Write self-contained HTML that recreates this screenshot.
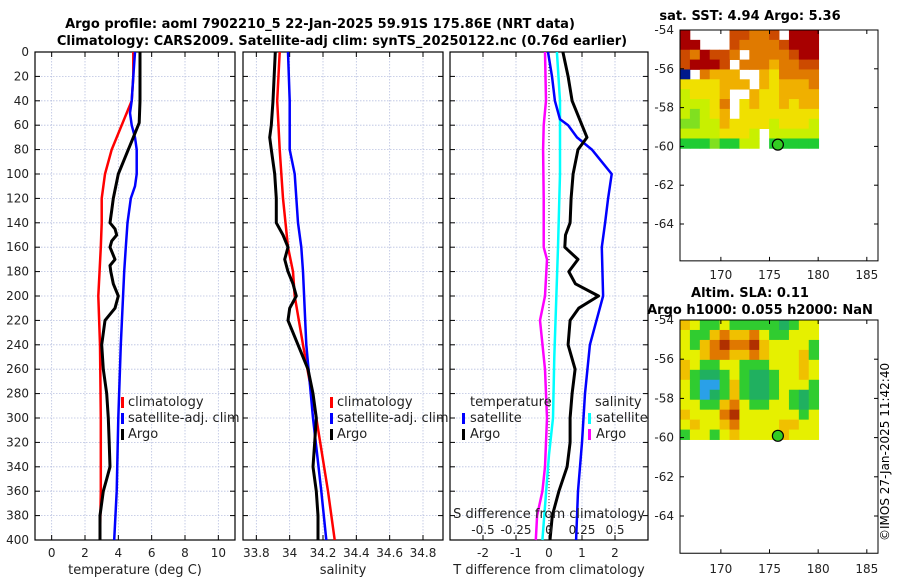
<!DOCTYPE html>
<html><head><meta charset="utf-8"><style>
body{margin:0;background:#fff;}
svg{display:block;font-family:"DejaVu Sans","Liberation Sans",sans-serif;}
</style></head><body>
<svg id="fig" width="900" height="580" viewBox="0 0 900 580">
<text x="320" y="28" text-anchor="middle" font-size="13" font-weight="bold">Argo profile: aoml 7902210_5 22-Jan-2025 59.91S 175.86E (NRT data)</text>
<text x="342" y="45" text-anchor="middle" font-size="13" font-weight="bold">Climatology: CARS2009. Satellite-adj clim: synTS_20250122.nc (0.76d earlier)</text>
<text x="750" y="20" text-anchor="middle" font-size="13" font-weight="bold">sat. SST: 4.94 Argo: 5.36</text>
<text x="750" y="297" text-anchor="middle" font-size="13" font-weight="bold">Altim. SLA: 0.11</text>
<text x="760" y="314" text-anchor="middle" font-size="13" font-weight="bold">Argo h1000: 0.055 h2000: NaN</text>
<text transform="translate(889,541) rotate(-90)" font-size="12">©IMOS 27-Jan-2025 11:42:40</text>
</svg>
<script>
// ---- data ----
const depthTicks=[0,20,40,60,80,100,120,140,160,180,200,220,240,260,280,300,320,340,360,380,400];
const tempTicks=[0,2,4,6,8,10];
const salTicks=[33.8,34,34.2,34.4,34.6,34.8];
const salTickLabels=["33.8","34","34.2","34.4","34.6","34.8"];
const dtTicks=[-2,-1,0,1,2];
const dsTicks=[-0.5,-0.25,0,0.25,0.5];
const dsTickLabels=["-0.5","-0.25","0","0.25","0.5"];

const tClimD=[0,20,40,60,80,100,120,140,160,200,240,300,360,400];
const tClimV=[4.9,4.9,4.8,4.2,3.6,3.2,3.0,3.0,2.95,2.8,2.9,2.95,2.95,2.9];
const tSatD=[0,20,40,50,60,70,80,100,110,120,140,160,180,240,300,360,400];
const tSatV=[5.0,4.9,4.8,4.7,4.8,5.0,5.1,5.1,5.0,4.75,4.55,4.45,4.35,4.15,4.0,3.9,3.75];
const tArgoD=[0,20,40,58,70,80,90,100,110,120,130,140,145,150,155,160,170,175,180,190,200,210,220,240,260,280,300,320,340,350,360,380,400];
const tArgoV=[5.3,5.3,5.3,5.25,4.9,4.6,4.3,4.0,3.85,3.7,3.6,3.5,3.8,3.9,3.6,3.5,3.8,3.5,3.55,3.7,4.0,3.8,3.2,3.0,3.1,3.3,3.4,3.45,3.5,3.3,3.1,2.9,2.9];

const sClimD=[0,40,80,120,160,180,200,240,300,360,400];
const sClimV=[33.94,33.925,33.94,33.96,33.99,34.02,34.03,34.08,34.16,34.23,34.27];
const sSatD=[0,40,80,100,140,160,180,240,300,360,400];
const sSatV=[33.99,34.0,34.0,34.03,34.05,34.07,34.08,34.1,34.14,34.19,34.22];
const sArgoD=[0,40,60,70,80,100,120,140,150,160,170,180,190,200,210,220,240,260,280,300,320,340,360,380,400];
const sArgoV=[33.914,33.90,33.89,33.88,33.89,33.91,33.92,33.92,33.96,33.99,33.97,33.99,34.02,34.04,34.0,33.99,34.05,34.11,34.14,34.16,34.15,34.14,34.16,34.17,34.17];

const dtSatD=[0,20,40,55,60,70,80,90,100,120,140,160,200,240,280,320,360,400];
const dtSatV=[-0.03,0.09,0.18,0.33,0.58,0.85,1.3,1.6,1.9,1.79,1.7,1.6,1.64,1.24,1.09,1.0,0.88,0.82];
const dtArgoD=[0,20,40,60,70,80,100,120,140,150,160,170,180,190,200,210,220,240,260,280,300,320,340,360,380,400];
const dtArgoV=[0.42,0.58,0.70,1.0,1.15,0.88,0.73,0.67,0.64,0.5,0.48,0.88,0.6,0.8,1.5,0.9,0.64,0.58,0.79,0.7,0.64,0.64,0.55,0.3,0.1,0.03];
const dsSatD=[0,40,100,160,250,300,330,400];
const dsSatV=[0.06,0.083,0.083,0.068,0.04,0.03,0.0,-0.05];
const dsArgoD=[0,40,60,80,120,160,170,200,220,260,300,340,360,380,400];
const dsArgoV=[-0.03,-0.023,-0.04,-0.045,-0.04,-0.04,-0.015,-0.03,-0.068,-0.03,-0.015,-0.03,-0.05,-0.09,-0.1];

// map grids (color class index per cell, -9 = NaN)
const sstGrid=[
[9,-9,-9,-9,-9,8,8,7,7,8,-9,9,9,9],
[9,9,-9,-9,-9,8,7,7,7,7,8,9,9,9],
[8,7,9,8,8,7,-9,7,7,7,7,8,9,9],
[8,9,9,9,8,-9,7,7,7,6,7,7,8,8],
[0,-9,7,6,6,6,-9,-9,6,5,7,7,7,7],
[5,5,5,5,6,6,6,-9,6,5,6,6,6,7],
[4,5,5,5,6,-9,-9,6,5,5,6,6,6,6],
[4,4,4,5,7,-9,5,6,5,5,6,5,6,6],
[4,3,4,5,6,-9,5,5,5,5,5,5,5,5],
[3,3,4,4,6,5,5,5,5,4,5,5,5,4],
[4,4,4,4,5,5,5,4,-9,4,4,4,4,4],
[2,2,2,3,2,2,4,4,-9,2,2,2,2,2]];
const slaGrid=[
[1,0,-1,-1,0,-1,-1,-1,-1,-1,-2,-1,0,0],
[0,-1,-1,1,2,1,1,2,0,-1,-1,0,0,0],
[0,-1,1,2,3,2,2,3,1,0,0,0,0,-1],
[0,0,1,2,2,1,1,2,1,0,0,0,1,-1],
[1,0,-1,-1,0,0,-1,-1,-1,0,0,0,1,0],
[1,-1,-2,-2,-1,0,-1,-2,-2,-1,0,0,1,0],
[0,-1,-3,-3,-1,1,-1,-2,-2,-1,0,0,0,-1],
[0,-1,-3,-2,-1,1,-1,-2,-2,-1,0,-1,-2,-1],
[0,0,-1,-1,1,2,0,-1,-1,0,0,-1,-2,-1],
[1,0,0,0,2,3,0,0,0,0,0,0,-1,0],
[0,1,0,0,1,2,0,0,0,0,1,1,0,0],
[-1,0,0,-1,0,1,0,0,0,0,1,0,0,0]];
const mapLonTicks=[170,175,180,185];
const mapLatTicks=[-54,-56,-58,-60,-62,-64];
const floatLon=[175.86];
const floatLat=[-59.91];

// ---- drawing ----
const NS="http://www.w3.org/2000/svg";
const svg=document.getElementById('fig');
function mk(tag,at,parent){const e=document.createElementNS(NS,tag);for(const k in at)e.setAttribute(k,at[k]);(parent||svg).appendChild(e);return e;}
const Y0=52,Y1=540;
const yD=d=>Y0+(d/400)*(Y1-Y0);
const panels=[
 {x0:35,x1:235,min:-1,max:11},
 {x0:243,x1:443,min:33.72,max:34.92},
 {x0:450,x1:648,min:-3,max:3}];
function sx(p,v){return p.x0+(v-p.min)/(p.max-p.min)*(p.x1-p.x0);}
const p3s={x0:450,x1:648,min:-0.75,max:0.75};

function panelFrame(p,xt,xl,name){
 const g=mk('g',{});
 
 
 xt.forEach(v=>{const x=sx(p,v);mk('line',{x1:x,x2:x,y1:Y0,y2:Y1,stroke:'#b8c0e0','stroke-width':0.8,'stroke-dasharray':'1.5,1.5'},g);});
 depthTicks.forEach(d=>{const y=yD(d);mk('line',{x1:p.x0,x2:p.x1,y1:y,y2:y,stroke:'#b8c0e0','stroke-width':0.8,'stroke-dasharray':'1.5,1.5'},g);
  mk('line',{x1:p.x0,x2:p.x0+5,y1:y,y2:y,stroke:'#000'},g);mk('line',{x1:p.x1-5,x2:p.x1,y1:y,y2:y,stroke:'#000'},g);});
 xt.forEach((v,i)=>{const x=sx(p,v);
  mk('line',{x1:x,x2:x,y1:Y1,y2:Y1-5,stroke:'#000'},g);mk('line',{x1:x,x2:x,y1:Y0,y2:Y0+5,stroke:'#000'},g);
  const t=mk('text',{x:x,y:Y1+17,'text-anchor':'middle','font-size':12,fill:'#222'},g);t.textContent=xl[i];
  
  });
 mk('rect',{x:p.x0,y:Y0,width:p.x1-p.x0,height:Y1-Y0,fill:'none',stroke:'#000','stroke-width':1.2},g);
 return g;}
function line(p,ds,vs,color,w,name){
 const pts=ds.map((d,i)=>sx(p,vs[i]).toFixed(1)+','+yD(d).toFixed(1)).join(' ');
 const e=mk('polyline',{points:pts,fill:'none',stroke:color,'stroke-width':w,'stroke-linejoin':'round'});
 
 }
function txt(x,y,s,name,extra){const t=mk('text',Object.assign({x:x,y:y,'font-size':13,fill:'#222'},extra||{}));t.textContent=s;
 
 return t;}
function legBar(x,y,c){const r=mk('rect',{x:x,y:y-10,width:3,height:11,fill:c});
 
 }

// panel 1
panelFrame(panels[0],tempTicks,tempTicks.map(String),'temperature-panel');
depthTicks.forEach(d=>{const t=mk('text',{x:29,y:yD(d)+4,'text-anchor':'end','font-size':12,fill:'#222'});t.textContent=d;
 
 });
line(panels[0],tClimD,tClimV,'#f00',2.5,'temp-climatology-line');
line(panels[0],tSatD,tSatV,'#00f',2.5,'temp-satellite-line');
line(panels[0],tArgoD,tArgoV,'#000',3,'temp-argo-line');
txt(135,574,'temperature (deg C)','temperature-axis-title',{'text-anchor':'middle'});
legBar(121,407,'#f00');txt(128,406,'climatology','legend-entry-climatology');
legBar(121,423,'#00f');txt(128,422,'satellite-adj. clim','legend-entry-satellite');
legBar(121,439,'#000');txt(128,438,'Argo','legend-entry-argo');

// panel 2
panelFrame(panels[1],salTicks,salTickLabels,'salinity-panel');
line(panels[1],sClimD,sClimV,'#f00',2.5,'sal-climatology-line');
line(panels[1],sSatD,sSatV,'#00f',2.5,'sal-satellite-line');
line(panels[1],sArgoD,sArgoV,'#000',3,'sal-argo-line');
txt(343,574,'salinity','salinity-axis-title',{'text-anchor':'middle'});
legBar(330,407,'#f00');txt(337,406,'climatology','legend-entry-climatology-2');
legBar(330,423,'#00f');txt(337,422,'satellite-adj. clim','legend-entry-satellite-2');
legBar(330,439,'#000');txt(337,438,'Argo','legend-entry-argo-2');

// panel 3
panelFrame(panels[2],dtTicks,dtTicks.map(String),'difference-panel');
mk('line',{x1:sx(panels[2],0),x2:sx(panels[2],0),y1:Y0,y2:Y1,stroke:'#333','stroke-width':1,'stroke-dasharray':'1,2'});
line(p3s,dsSatD,dsSatV,'#0ff',2.5,'sal-diff-satellite-line');
line(p3s,dsArgoD,dsArgoV,'#f0f',2.5,'sal-diff-argo-line');
line(panels[2],dtSatD,dtSatV,'#00f',2.5,'temp-diff-satellite-line');
line(panels[2],dtArgoD,dtArgoV,'#000',3,'temp-diff-argo-line');
txt(470,406,'temperature','legend-heading-temperature');
legBar(462,423,'#00f');txt(470,422,'satellite','legend-entry-t-satellite');
legBar(462,439,'#000');txt(470,438,'Argo','legend-entry-t-argo');
txt(595,406,'salinity','legend-heading-salinity');
legBar(588,423,'#0ff');txt(596,422,'satellite','legend-entry-s-satellite');
legBar(588,439,'#f0f');txt(596,438,'Argo','legend-entry-s-argo');
txt(549,518,'S difference from climatology','s-diff-axis-title',{'text-anchor':'middle'});
dsTicks.forEach((v,i)=>{txt(sx(p3s,v),534,dsTickLabels[i],'s-diff-tick-label',{'text-anchor':'middle','font-size':12});});
txt(549,574,'T difference from climatology','t-diff-axis-title',{'text-anchor':'middle'});

// maps
const mLon0=165.8,pxDeg=9.73;
function mapX(lon){return 680+(lon-mLon0)*pxDeg;}
const sstCols={'-9':null,0:'#00198c',2:'#1fcc33',3:'#80e020',4:'#c8f000',5:'#f0e000',6:'#f0b000',7:'#e07a00',8:'#cc4a00',9:'#a80000'};
const slaCols={'-3':'#2aa0e8','-2':'#20b060','-1':'#30cc30',0:'#e6f000',1:'#f0c000',2:'#e07800',3:'#b03000'};
function drawMap(top,latPx,grid,cols,name,lblY){
 const g=mk('g',{});
 
 
 const mY=lat=>top+(-54-lat)*latPx;
 const dx0=680,dx1=mapX(180.05),dy1=mY(-60.1);
 const cw=(dx1-dx0)/grid[0].length,ch=(dy1-top)/grid.length;
 grid.forEach((row,r)=>row.forEach((v,c)=>{const col=cols[v];if(!col)return;
  mk('rect',{x:(dx0+c*cw).toFixed(2),y:(top+r*ch).toFixed(2),width:(cw+0.4).toFixed(2),height:(ch+0.4).toFixed(2),fill:col},g);}));
 const yb=mY(-65.9);
 mk('rect',{x:680,y:top,width:198,height:(yb-top),fill:'none',stroke:'#000','stroke-width':1},g);
 mapLonTicks.forEach(l=>{const x=mapX(l);mk('line',{x1:x,x2:x,y1:top,y2:top+4,stroke:'#000'},g);
  mk('line',{x1:x,x2:x,y1:yb,y2:yb-4,stroke:'#000'},g);
  const t=mk('text',{x:x,y:lblY,'text-anchor':'middle','font-size':12,fill:'#222'},g);t.textContent=l;
  
  });
 mapLatTicks.forEach(l=>{const y=mY(l);mk('line',{x1:680,x2:684,y1:y,y2:y,stroke:'#000'},g);mk('line',{x1:874,x2:878,y1:y,y2:y,stroke:'#000'},g);
  const t=mk('text',{x:674,y:y+4,'text-anchor':'end','font-size':12,fill:'#222'},g);t.textContent=l;
  
  });
 floatLon.forEach((lo,i)=>{const c=mk('circle',{cx:mapX(lo),cy:mY(floatLat[i]),r:5.5,fill:'#33cc22',stroke:'#000','stroke-width':1.2},g);
  
  });
}
drawMap(30,19.4,sstGrid,sstCols,'sst-map',279);
drawMap(320,19.6,slaGrid,slaCols,'sla-map',573);
</script>
</body></html>
